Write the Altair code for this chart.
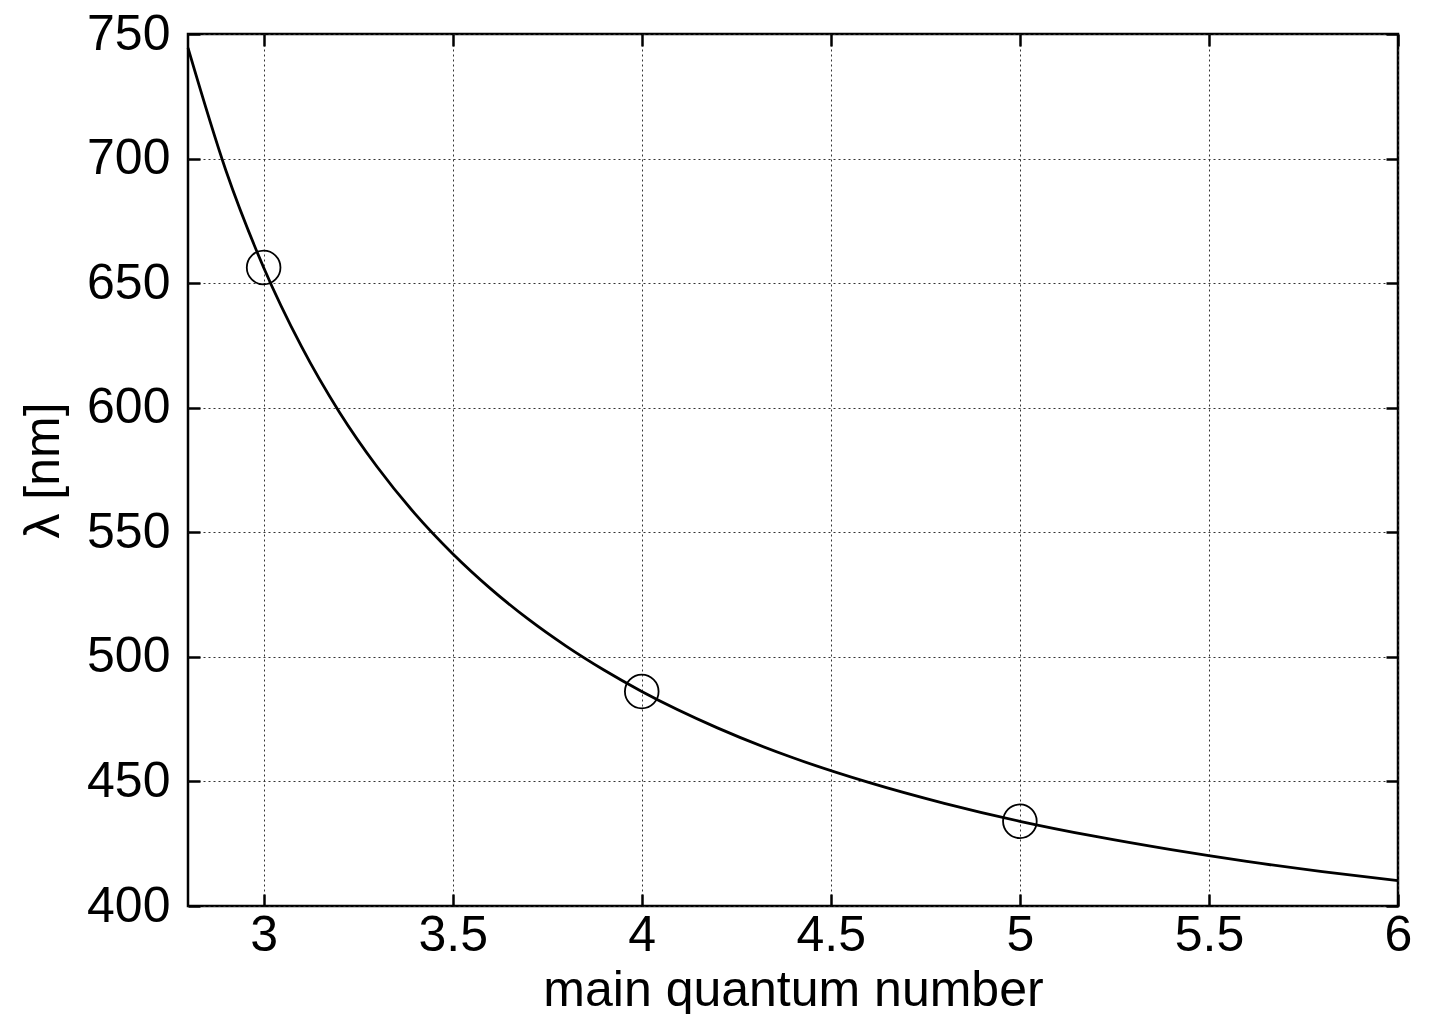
import altair as alt
import pandas as pd

# curve (main quantum number vs wavelength in nm)
curve_n = [2.8, 2.9, 3.0, 3.1, 3.2, 3.3, 3.4, 3.5, 3.6, 3.7, 3.8, 3.9, 4.0,
           4.2, 4.4, 4.6, 4.8, 5.0, 5.2, 5.4, 5.6, 5.8, 6.0]
curve_lambda = [744.4, 695.3, 656.3, 624.6, 598.3, 576.3, 557.5, 541.4, 527.4,
                515.1, 504.3, 494.7, 486.1, 471.5, 459.5, 449.6, 441.2, 434.0,
                427.9, 422.6, 417.9, 413.8, 410.2]

# measured points
point_n = [3, 4, 5]
point_lambda = [656.3, 486.1, 434.0]

x_ticks = [3, 3.5, 4, 4.5, 5, 5.5, 6]
y_ticks = [400, 450, 500, 550, 600, 650, 700, 750]

curve_df = pd.DataFrame({"n": curve_n, "lam": curve_lambda})
point_df = pd.DataFrame({"n": point_n, "lam": point_lambda})

FONT = "Liberation Sans"
FS = 50
xscale = alt.Scale(domain=[2.8, 6], nice=False, zero=False)
yscale = alt.Scale(domain=[400, 750], nice=False, zero=False)

tick_axis = dict(domain=False, tickSize=12, offset=-12, tickWidth=2.5,
                 tickColor="black", labelFont=FONT, labelFontSize=FS,
                 labelColor="black")
title_axis = dict(titleFont=FONT, titleFontSize=FS, titleColor="black",
                  titleFontWeight="normal")
grid_axis = dict(grid=True, gridDash=[2, 3], gridColor="#333", gridWidth=1,
                 gridOpacity=1)

line = alt.Chart(curve_df).mark_line(color="black", strokeWidth=2.8,
                                     interpolate="monotone").encode(
    x=alt.X("n:Q", scale=xscale,
            axis=alt.Axis(values=x_ticks, orient="bottom", labelPadding=4,
                          titlePadding=5, labelFlush=False, format="~g",
                          title="main quantum number",
                          **tick_axis, **title_axis, **grid_axis)),
    y=alt.Y("lam:Q", scale=yscale,
            axis=alt.Axis(values=y_ticks, orient="left", labelPadding=18,
                          titlePadding=18, labelFlush=False, format="d",
                          title="λ [nm]",
                          **tick_axis, **title_axis, **grid_axis)),
)

points = alt.Chart(point_df).mark_point(shape="circle", size=1134, filled=False,
                                        color="black", strokeWidth=1.8,
                                        opacity=1).encode(
    x=alt.X("n:Q", scale=xscale,
            axis=alt.Axis(values=x_ticks, orient="top", grid=False,
                          labels=False, title=None, **tick_axis)),
    y=alt.Y("lam:Q", scale=yscale,
            axis=alt.Axis(values=y_ticks, orient="right", grid=False,
                          labels=False, title=None, **tick_axis)),
)

chart = alt.layer(line, points).resolve_axis(
    x="independent", y="independent"
).properties(
    width=1210, height=872,
    autosize=alt.AutoSizeParams(type="none"),
    padding={"left": 180, "top": 26, "right": 30, "bottom": 115},
    background="white",
).configure_view(stroke="black", strokeWidth=2.5)

chart.save("out.html", embed_options={"renderer": "svg", "actions": False})
